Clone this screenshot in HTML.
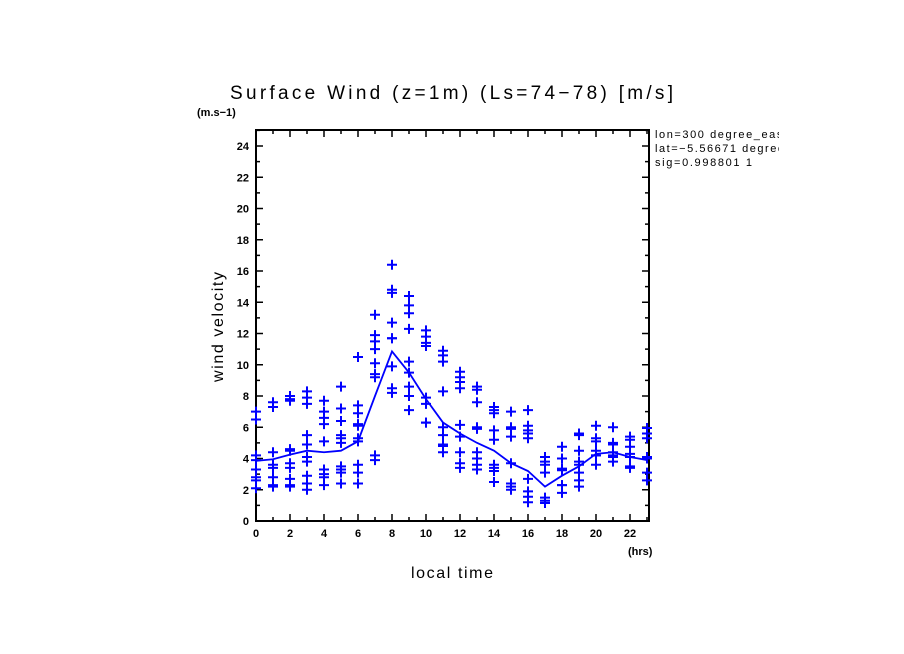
<!DOCTYPE html>
<html><head><meta charset="utf-8"><style>
body{margin:0;background:#fff;}
svg{display:block;font-family:"Liberation Sans",sans-serif;}
</style></head><body>
<svg id="chart" width="904" height="654" viewBox="0 0 904 654">
<defs><clipPath id="infoclip"><rect x="650" y="120" width="129" height="60"/></clipPath></defs>
<rect width="904" height="654" fill="#fff"/>
<text x="230" y="99" font-size="19" textLength="443" lengthAdjust="spacing" fill="#000">Surface Wind (z=1m) (Ls=74−78) [m/s]</text>
<text x="197" y="116" font-size="11" font-weight="bold" fill="#000">(m.s−1)</text>
<text x="628" y="555" font-size="11" font-weight="bold" fill="#000">(hrs)</text>
<text x="411" y="578" font-size="16" textLength="82" lengthAdjust="spacing" fill="#000">local time</text>
<text transform="translate(223,382) rotate(-90)" font-size="16" textLength="110" lengthAdjust="spacing" fill="#000">wind velocity</text>
<g clip-path="url(#infoclip)" font-size="11" fill="#000">
<text x="655" y="138" textLength="132" lengthAdjust="spacing">lon=300 degree_east</text>
<text x="655" y="152" textLength="136" lengthAdjust="spacing">lat=−5.56671 degrees</text>
<text x="655" y="166" textLength="97" lengthAdjust="spacing">sig=0.998801 1</text>
</g>
<g id="axes"></g>
<g id="marks"></g>
</svg>
<script>
const hours=[0,1,2,3,4,5,6,7,8,9,10,11,12,13,14,15,16,17,18,19,20,21,22,23];
const samples=[
[7.0,6.5,4.2,3.9,3.3,2.8,2.6,2.1],
[7.6,7.3,4.4,3.6,3.4,2.8,2.3,2.2],
[8.0,7.8,7.7,4.6,4.5,3.7,3.4,2.7,2.3,2.2],
[8.3,7.9,7.5,5.5,4.9,4.1,3.8,2.9,2.4,2.0],
[7.7,7.0,6.6,6.2,5.1,3.3,3.0,2.8,2.3],
[8.6,7.2,6.4,5.5,5.3,5.0,3.5,3.3,3.1,2.4],
[10.5,7.4,6.9,6.2,6.1,5.3,5.1,3.6,3.1,2.4],
[13.2,11.9,11.5,11.0,10.1,9.4,9.2,4.2,3.9],
[16.4,14.8,14.6,12.7,11.7,11.7,9.9,8.5,8.2],
[14.4,13.8,13.3,12.3,10.2,9.5,8.6,8.0,7.1],
[12.2,11.8,11.4,11.2,7.9,7.5,6.3,6.3],
[10.9,10.6,10.2,8.3,6.0,5.5,4.9,4.8,4.4],
[9.55,9.2,8.9,8.5,6.15,5.4,4.4,3.7,3.4],
[8.6,8.4,7.6,6.0,5.9,4.4,4.0,3.6,3.3],
[7.3,7.1,6.9,5.8,5.2,3.6,3.4,3.2,2.5],
[7.0,6.0,5.9,5.4,3.7,2.4,2.2,2.0],
[7.1,6.1,5.8,5.6,5.3,2.7,1.9,1.55,1.2],
[4.1,3.8,3.6,3.1,1.5,1.3,1.15],
[4.75,4.0,3.35,3.25,2.3,2.3,1.8],
[5.6,5.5,4.5,3.8,3.6,3.1,2.6,2.2],
[6.1,5.3,5.1,4.5,4.2,4.2,3.6],
[6.0,5.0,4.9,4.4,4.2,4.1,3.8],
[5.4,5.2,4.75,4.3,4.1,3.5,3.4],
[5.95,5.6,5.3,4.1,4.0,3.1,2.6]
];
const meanLine=[3.85,3.95,4.25,4.5,4.4,4.5,5.1,8.0,10.85,9.5,7.8,6.3,5.6,5.0,4.5,3.7,3.2,2.2,2.9,3.5,4.3,4.4,4.1,3.9];
const yTicks=[0,2,4,6,8,10,12,14,16,18,20,22,24];
const xTicks=[0,2,4,6,8,10,12,14,16,18,20,22];

const NS="http://www.w3.org/2000/svg";
const X0=256,XS=17,Y0=521,YS=15.625,TOP=130,RIGHT=649;
const xs=h=>X0+h*XS, ys=v=>Y0-v*YS;
function mk(tag,attrs,parent){const e=document.createElementNS(NS,tag);for(const k in attrs)e.setAttribute(k,attrs[k]);parent.appendChild(e);return e;}
const axes=document.getElementById('axes'), marks=document.getElementById('marks');

const frame=mk('rect',{x:X0,y:TOP,width:RIGHT-X0,height:Y0-TOP,fill:'none',stroke:'#000','stroke-width':2},axes);


for(let v=0;v<=25;v++){
  const y=ys(v),len=(v%2===0)?7:4;
  mk('line',{x1:X0,x2:X0+len,y1:y,y2:y,stroke:'#000','stroke-width':1.5},axes);
  mk('line',{x1:RIGHT,x2:RIGHT-len,y1:y,y2:y,stroke:'#000','stroke-width':1.5},axes);
}
for(let h=0;h<=23;h++){
  const x=xs(h),len=(h%2===0)?7:4;
  mk('line',{x1:x,x2:x,y1:Y0,y2:Y0-len,stroke:'#000','stroke-width':1.5},axes);
  mk('line',{x1:x,x2:x,y1:TOP,y2:TOP+len,stroke:'#000','stroke-width':1.5},axes);
}
yTicks.forEach(v=>{
  const t=mk('text',{x:X0-7,y:ys(v)+4,'font-size':11,'font-weight':'bold','text-anchor':'end',fill:'#000'},axes);
  t.textContent=v;
  
  
});
xTicks.forEach(h=>{
  const t=mk('text',{x:xs(h),y:Y0+16,'font-size':11,'font-weight':'bold','text-anchor':'middle',fill:'#000'},axes);
  t.textContent=h;
  
  
});

const pts=meanLine.map((v,i)=>xs(hours[i])+','+ys(v)).join(' ');
const line=mk('polyline',{points:pts,fill:'none',stroke:'#0000ff','stroke-width':1.8},marks);



samples.forEach((arr,i)=>{
  arr.forEach(v=>{
    const x=xs(hours[i]),y=ys(v);
    const g=mk('path',{d:`M${x-5},${y}H${x+5}M${x},${y-5}V${y+5}`,stroke:'#0000ff','stroke-width':2,fill:'none'},marks);
    
    
  });
});
</script>
</body></html>
